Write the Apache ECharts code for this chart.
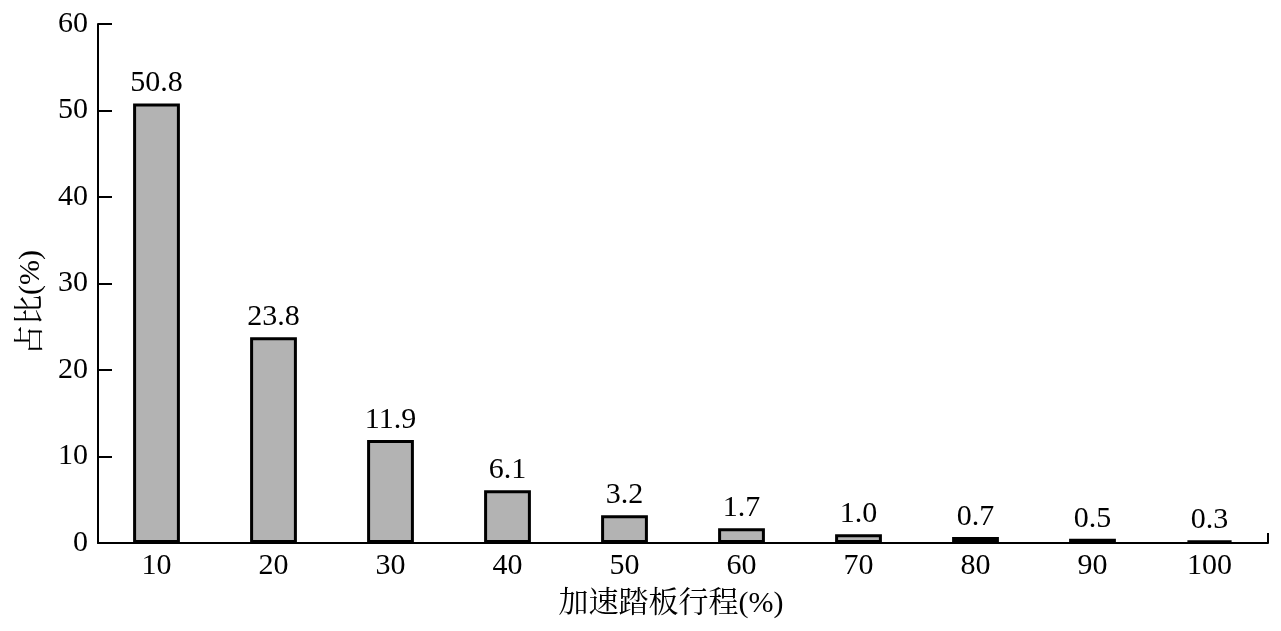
<!DOCTYPE html>
<html><head><meta charset="utf-8">
<script src="https://cdn.jsdelivr.net/npm/echarts@6/dist/echarts.min.js"></script>
<style>html,body{margin:0;padding:0;background:#fff}#c{width:1281px;height:631px}</style>
</head><body><div id="c"></div>
<script>
var categories = ['10','20','30','40','50','60','70','80','90','100'];
var values = [50.8, 23.8, 11.9, 6.1, 3.2, 1.7, 1.0, 0.7, 0.5, 0.3];
var yTicks = {min: 0, max: 60, interval: 10};
var FONT = '"Liberation Serif", "Times New Roman", "Noto Serif CJK SC", "Noto Sans CJK SC", serif';
var chart = echarts.init(document.getElementById('c'));
chart.setOption({
  animation: false,
  grid: {left: 98, right: 13, top: 24, bottom: 88},
  xAxis: {
    type: 'category', data: categories,
    name: '加速踏板行程(%)', nameLocation: 'middle', nameGap: 46,
    nameTextStyle: {fontFamily: FONT, fontSize: 30, color: '#000', padding: [0, 24, 0, 0]},
    axisLine: {lineStyle: {color: '#000', width: 2}},
    axisTick: {show: true, inside: true, length: 10, lineStyle: {color: '#000', width: 2},
      interval: function (i) { return i === categories.length - 1; }},
    axisLabel: {fontFamily: FONT, fontSize: 30, color: '#000', margin: 8}
  },
  yAxis: {
    type: 'value', min: yTicks.min, max: yTicks.max, interval: yTicks.interval,
    name: '占比(%)', nameLocation: 'middle', nameGap: 52, nameRotate: 90,
    nameTextStyle: {fontFamily: FONT, fontSize: 30, color: '#000', padding: [0, 0, 0, -38]},
    axisLine: {show: true, lineStyle: {color: '#000', width: 2}},
    axisTick: {show: true, inside: true, length: 14, lineStyle: {color: '#000', width: 2}},
    splitLine: {show: false},
    axisLabel: {fontFamily: FONT, fontSize: 30, color: '#000', margin: 10}
  },
  series: [{
    type: 'bar', data: values, barWidth: '40%',
    itemStyle: {color: '#b3b3b3', borderColor: '#000', borderWidth: 3},
    label: {show: true, position: 'top', distance: 5, fontFamily: FONT, fontSize: 30, color: '#000',
      formatter: function (p) { return p.value.toFixed(1); }}
  }]
});
</script></body></html>
